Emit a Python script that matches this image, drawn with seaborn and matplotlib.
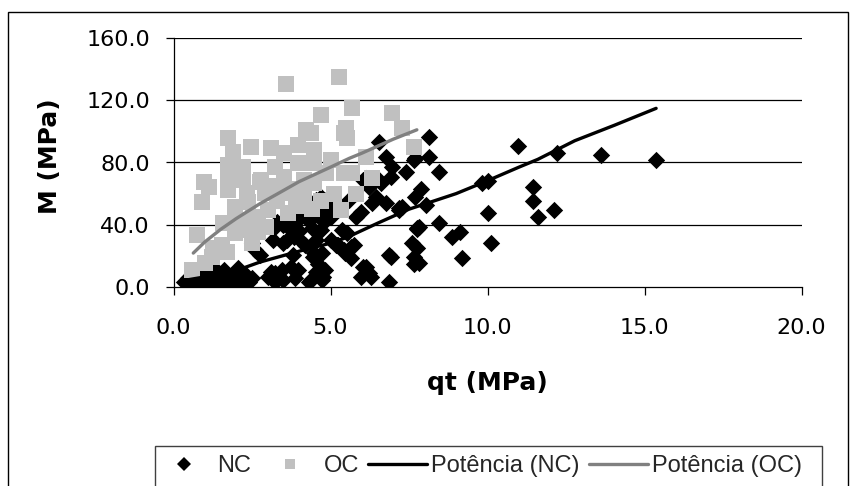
import numpy as np
import pandas as pd
import seaborn as sns
import matplotlib
matplotlib.use("Agg")
import matplotlib.pyplot as plt
from matplotlib.lines import Line2D
from matplotlib.patches import Rectangle

# ---------------- data ----------------
nc_qt = [0.35, 0.45, 0.55, 0.65, 0.75, 0.85, 0.9, 1.0, 1.1, 1.15, 1.25, 1.35, 1.45, 1.5, 1.6, 1.65,
         1.75, 1.85, 1.95, 2.05, 2.1, 2.2, 2.3, 2.4, 2.5, 1.3, 0.6,
         2.5, 2.58, 2.74, 3.12, 3.02, 3.22, 3.23, 3.44, 3.5, 3.75, 3.86, 4.39, 4.33, 4.55, 4.75, 4.81,
         4.43, 4.6, 4.49, 4.18, 3.8, 3.95, 4.74, 4.74,
         3.16, 3.48, 3.85, 3.22, 3.65, 4.27, 4.06, 4.54, 4.8, 4.7, 5.01, 5.22, 4.7, 5.01, 3.5, 3.7,
         3.9, 4.1, 4.3, 4.5, 4.9, 5.1, 3.6, 4.0, 4.4, 4.8, 5.0, 3.3, 4.2, 4.54, 4.1, 5.17,
         5.44, 5.45, 5.24, 5.66, 5.65, 5.75, 5.53, 5.38, 5.8, 5.6, 5.96, 6.33, 6.76, 7.28, 7.7, 6.44,
         6.23, 6.02, 6.6, 6.92, 6.55, 6.76, 7.39, 7.7, 6.12, 6.55,
         6.13, 6.29, 5.96, 6.23, 6.02, 6.86, 6.86, 6.92, 7.65, 7.75, 7.81, 7.6, 7.81, 7.18, 6.96,
         8.13, 8.13, 7.65, 8.45, 10.98, 12.2, 13.62, 15.37, 10.03, 9.82, 7.87, 7.18, 8.03, 10.03,
         11.46, 11.46, 11.62, 12.12, 7.76, 8.45, 9.13, 8.87, 7.76, 10.12, 9.19, 7.65]
nc_m = [3, 5.5, 2, 6, 3, 1.5, 7.5, 4, 2, 8, 3.5, 9, 2, 5.5, 11, 1, 4, 7.5, 2, 12, 5, 2.5, 8, 3, 6, 12.5, 9,
        28, 23.8, 20.6, 9.8, 6.6, 8.8, 3.4, 11, 4.5, 13, 5.8, 4.5, 3.4, 9.8, 6.6, 11,
        19.5, 15, 21.6, 27, 20.6, 11, 4.5, 22,
        30.2, 28, 32.3, 38.8, 38.8, 43, 51.6, 56, 49.5, 36.6, 30.2, 27, 58, 59, 40, 45,
        42, 48, 52, 46, 55, 52, 30, 36, 38, 42, 45, 42, 56, 30, 29, 27,
        23.8, 21.6, 27, 26, 18.6, 27, 35, 36.6, 45.2, 56, 48.4, 53.8, 54, 51.6, 58, 58,
        64.5, 68.8, 66.6, 70.9, 93.4, 83.7, 74, 83, 70, 69,
        13, 6.6, 6.4, 9, 13, 3.4, 20.6, 19.5, 19, 37, 38.8, 28, 15.2, 51, 77,
        96.6, 83.7, 81.6, 74, 90.6, 85.9, 84.8, 81.6, 68.3, 66.6, 62.8, 49.5, 52.7, 47.8,
        64.5, 55.5, 45.2, 49.5, 37.7, 41, 35.5, 32.3, 24.9, 28, 18.4, 14.6]

oc_qt = [0.59, 1.01, 1.22, 1.7, 1.54, 0.74, 1.96, 2.22, 2.7, 1.59, 2.07, 2.54, 0.9, 1.96, 2.38, 1.75,
         2.33, 0.96, 1.12, 1.75, 2.22, 2.75, 1.75, 2.22, 1.91, 2.47, 1.75,
         2.69, 2.95, 3.0, 3.64, 2.9, 3.64, 4.17, 2.8, 3.53, 4.17, 4.49, 4.86, 5.44, 3.22, 3.96, 4.49,
         5.01, 3.53, 3.11, 3.96, 4.49, 4.38, 5.44, 5.12, 5.33,
         5.28, 3.59, 5.7, 4.7, 6.96, 4.22, 5.49, 5.53, 7.27, 7.65, 6.14, 5.7, 6.33, 5.8,
         3.3, 3.9, 4.4, 4.0, 3.3, 4.7, 2.5, 1.25, 2.1]
oc_m = [10.9, 15.2, 19.5, 22.7, 27, 33.4, 34.5, 36.6, 35.5, 40.9, 43, 45.2, 54.8, 51.6, 54.8, 62.3,
        60.2, 67.7, 64.5, 68.8, 68.8, 67.7, 78.4, 77.3, 87, 89.8, 95.5,
        40.9, 38.8, 49.5, 47.4, 60.2, 60.2, 59.1, 68.8, 70.9, 68.8, 66.6, 73, 73, 77.3, 79.5, 79.5,
        81.6, 86, 89, 91, 88, 98.8, 98.8, 60, 49.5,
        135, 130.5, 115, 110.5, 112, 101, 102, 96, 102, 90, 83.5, 73, 70, 60,
        55, 52, 50, 63, 65, 55, 28, 25, 41]

# trend lines ("Potência")
nc_trend_qt = [0.42, 1.0, 1.85, 2.75, 4.0, 4.97, 5.54, 6.5, 7.5, 7.8, 9.0, 9.93, 11.0, 11.6, 12.78, 14.05, 15.37]
nc_trend_m = [4.5, 6.5, 9.5, 16, 23, 28, 32, 41, 50, 52, 60, 67.7, 77, 82, 94, 104, 114.8]
oc_trend_qt = [0.63, 1.0, 1.5, 2.0, 2.75, 3.5, 4.0, 5.0, 5.6, 6.0, 7.0, 7.75]
oc_trend_m = [21.8, 29, 37, 44, 53.5, 62, 67.7, 77, 82.7, 86, 95, 101]

x_ticks = [0, 5, 10, 15, 20]
y_ticks = [0, 40, 80, 120, 160]
legend_labels = ["NC", "OC", "Potência (NC)", "Potência (OC)"]

# ---------------- figure ----------------
sns.set_theme(style="white")
plt.rcParams['font.family'] = ['DejaVu Sans']

W, H = 856, 486
fig = plt.figure(figsize=(W / 100, H / 100), dpi=100)
fig.patch.set_facecolor("white")

x0, x1, ytop, ybot = 173.5, 801.5, 38, 287
ax = fig.add_axes([x0 / W, 1 - ybot / H, (x1 - x0) / W, (ybot - ytop) / H])
ax.set_facecolor("white")

black = "#000000"
grey_pts = "#c0c0c0"
grey_line = "#808080"

nc_df = pd.DataFrame({"qt": nc_qt, "M": nc_m})
oc_df = pd.DataFrame({"qt": oc_qt, "M": oc_m})
nct = pd.DataFrame({"qt": nc_trend_qt, "M": nc_trend_m})
oct_ = pd.DataFrame({"qt": oc_trend_qt, "M": oc_trend_m})

# gridlines
for yv in y_ticks[1:]:
    ax.axhline(yv, color=black, lw=0.9, zorder=0.5)

sns.scatterplot(data=nc_df, x="qt", y="M", ax=ax, marker="D", s=78, color=black,
                linewidth=0, zorder=2, legend=False)
sns.scatterplot(data=oc_df, x="qt", y="M", ax=ax, marker="s", s=118, color=grey_pts,
                linewidth=0, zorder=3, legend=False)
sns.lineplot(data=nct, x="qt", y="M", ax=ax, color=black, lw=2.4, sort=False,
             estimator=None, zorder=4, legend=False)
sns.lineplot(data=oct_, x="qt", y="M", ax=ax, color=grey_line, lw=2.4, sort=False,
             estimator=None, zorder=4, legend=False)

ax.set_xlim(0, 20)
ax.set_ylim(0, 160)
ax.set_xticks(x_ticks)
ax.set_yticks(y_ticks)
ax.set_xticklabels([f"{v:.1f}" for v in x_ticks])
ax.set_yticklabels([f"{v:.1f}" for v in y_ticks])
for s in ["top", "right"]:
    ax.spines[s].set_visible(False)
for s in ["left", "bottom"]:
    ax.spines[s].set_color(black)
    ax.spines[s].set_linewidth(0.9)
ax.tick_params(axis="both", which="major", direction="out", length=6, width=0.9,
               color=black, labelsize=16, labelcolor=black, bottom=True, left=True)
ax.tick_params(axis="y", pad=11)
ax.tick_params(axis="x", pad=16)

ax.set_xlabel("qt (MPa)", fontsize=18, fontweight="bold", color=black, va="center")
ax.set_ylabel("M (MPa)", fontsize=18, fontweight="bold", color=black, va="center")
ax.xaxis.set_label_coords((487 - x0) / (x1 - x0), (ybot - 383) / (ybot - ytop))
ax.yaxis.set_label_coords((50 - x0) / (x1 - x0), (ybot - 156) / (ybot - ytop))

# outer chart frame
fig.add_artist(Rectangle((8 / W, -0.05), (848 - 8) / W, 1.05 - 12 / H,
                         transform=fig.transFigure, fill=False, ec=black, lw=1.0))
# legend box
fig.add_artist(Rectangle((155 / W, -0.05), (822 - 155) / W, 0.05 + 1 - 446 / H,
                         transform=fig.transFigure, fill=False, ec="#404040", lw=1.0))

handles = [
    Line2D([], [], ls="none", marker="D", ms=7.5, color=black, mew=0),
    Line2D([], [], ls="none", marker="s", ms=7.0, color=grey_pts, mew=0),
    Line2D([], [], color=black, lw=2.4),
    Line2D([], [], color=grey_line, lw=2.4),
]
fig.legend(handles, legend_labels, loc="center left", bbox_to_anchor=(154 / W, 1 - 466 / H),
           ncol=4, frameon=False, prop={"family": "Liberation Sans", "size": 17},
           handlelength=2.5, handletextpad=0.17, columnspacing=0.4, borderpad=0,
           borderaxespad=0)

fig.savefig("out.png", dpi=100, facecolor="white")
